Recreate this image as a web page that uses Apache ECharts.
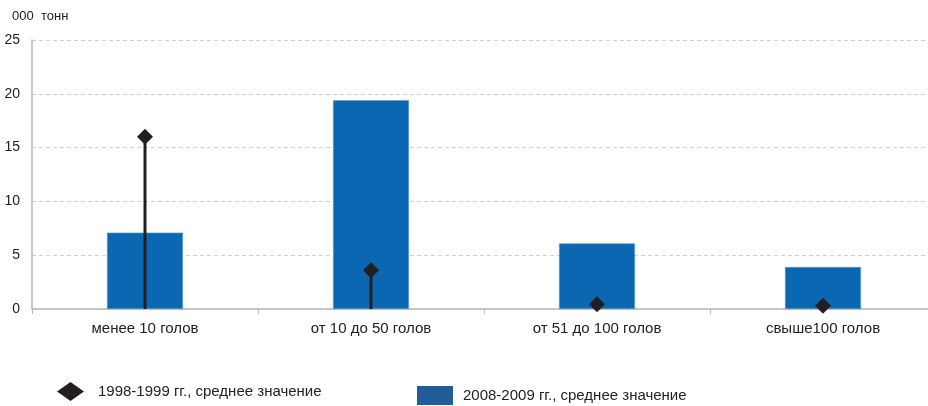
<!DOCTYPE html>
<html>
<head>
<meta charset="utf-8">
<script src="https://cdn.jsdelivr.net/npm/echarts@6/dist/echarts.min.js"></script>
<style>
html,body{margin:0;padding:0;background:#fff;}
#chart{width:928px;height:406px;}
</style>
</head>
<body>
<div id="chart"></div>
<script>
var categories = ['менее 10 голов', 'от 10 до 50 голов', 'от 51 до 100 голов', 'свыше100 голов'];
var avg2008 = [7.1, 19.4, 6.1, 3.9];
var avg1998 = [16.0, 3.6, 0.45, 0.3];
var name1998 = '1998-1999 гг., среднее значение';
var name2008 = '2008-2009 гг., среднее значение';

var myChart = echarts.init(document.getElementById('chart'));
var font = 'Liberation Sans, Arial, sans-serif';

var option = {
	animation: false,
	textStyle: {fontFamily: font},
	grid: {left: 32, right: -8, top: 40, bottom: 97, containLabel: false, outerBoundsMode: 'none'},
	legend: [
		{
			left: 57, top: 382, padding: 0, itemWidth: 27, itemHeight: 19,
			textStyle: {fontSize: 15, color: '#222', fontFamily: font, padding: [0, 0, 0, 9]},
			data: [{name: name1998, icon: 'diamond', itemStyle: {color: '#231f20', borderWidth: 0}}]
		},
		{
			left: 417, top: 386, padding: 0, itemWidth: 36, itemHeight: 19,
			textStyle: {fontSize: 15, color: '#222', fontFamily: font, padding: [0, 0, 0, 5]},
			data: [{name: name2008, icon: 'rect', itemStyle: {color: '#225c99', borderWidth: 0}}]
		}
	],
	xAxis: [
		{
			type: 'category',
			data: categories,
			axisLine: {lineStyle: {color: '#b8b8b8', width: 1.5}},
			axisTick: {show: true, length: 5, lineStyle: {color: '#b8b8b8'}},
			axisLabel: {fontSize: 15, color: '#222', margin: 12}
		},
		{
			type: 'category',
			data: categories,
			show: false
		}
	],
	yAxis: {
		type: 'value',
		min: 0, max: 25, interval: 5,
		name: '000  тонн',
		nameLocation: 'end',
		nameGap: 17,
		nameTextStyle: {fontSize: 13, color: '#222', align: 'left', padding: [0, 0, 0, -20]},
		axisLine: {show: true, lineStyle: {color: '#b8b8b8', width: 1.5}},
		axisTick: {show: false},
		axisLabel: {fontSize: 14, color: '#222', margin: 12},
		splitLine: {lineStyle: {color: '#cfcfcf', type: [4, 3]}}
	},
	series: [
		{
			name: name2008,
			type: 'bar',
			data: avg2008,
			barWidth: 76,
			itemStyle: {color: '#0b67b2', borderColor: '#5d9bd0', borderWidth: 0.6}
		},
		{
			name: 'stem',
			type: 'bar',
			xAxisIndex: 1,
			data: avg1998,
			barWidth: 3,
			itemStyle: {color: '#231f20'}
		},
		{
			name: name1998,
			type: 'scatter',
			data: avg1998,
			symbol: 'diamond',
			symbolSize: 16,
			itemStyle: {color: '#231f20', opacity: 1}
		}
	]
};

if (option && typeof option === 'object') {
	myChart.setOption(option, true);
}
</script>
</body>
</html>
